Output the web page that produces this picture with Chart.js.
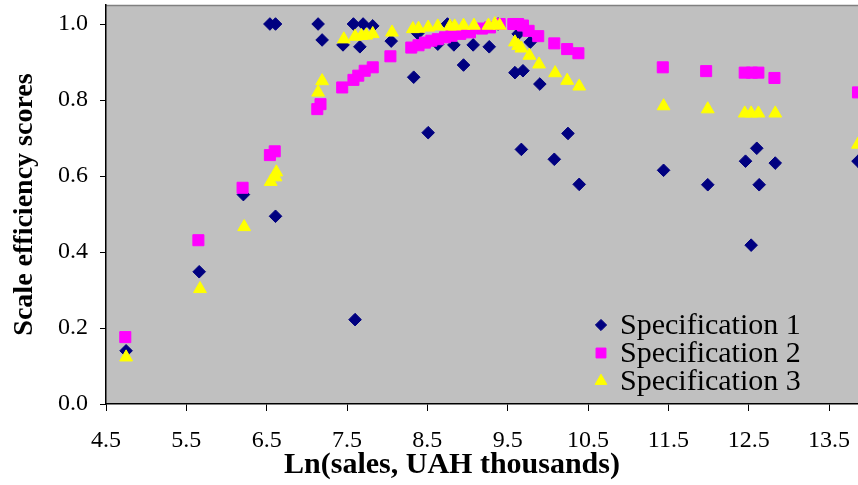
<!DOCTYPE html>
<html>
<head>
<meta charset="utf-8">
<script src="https://cdn.jsdelivr.net/npm/chart.js@4.4.1/dist/chart.umd.min.js"></script>
<style>
html,body{margin:0;padding:0;background:#fff;}
#wrap{width:858px;height:485px;}
</style>
</head>
<body>
<div id="wrap"><canvas id="c" width="858" height="485"></canvas></div>
<script>
// ---- data ----
const seriesLabels = ['Specification 1', 'Specification 2', 'Specification 3'];
const xAxisTitle = 'Ln(sales, UAH thousands)';
const yAxisTitle = 'Scale efficiency scores';
const xTickValues = [4.5, 5.5, 6.5, 7.5, 8.5, 9.5, 10.5, 11.5, 12.5, 13.5];
const yTickValues = [0.0, 0.2, 0.4, 0.6, 0.8, 1.0];

const spec1X = [4.75, 5.66, 6.21, 6.54, 6.61, 6.61, 7.14, 7.19, 7.45, 7.58, 7.60, 7.66, 7.70, 7.82, 8.05, 8.33, 8.38, 8.51, 8.63, 8.75, 8.83, 8.95, 9.07, 9.27, 9.38, 9.59, 9.63, 9.67, 9.69, 9.78, 9.90, 10.08, 10.25, 10.39, 11.44, 11.99, 12.46, 12.53, 12.60, 12.63, 12.83, 13.86];
const spec1Y = [0.140, 0.348, 0.551, 1.000, 1.000, 0.494, 1.000, 0.958, 0.945, 1.000, 0.222, 0.940, 1.000, 0.995, 0.955, 0.860, 0.975, 0.714, 0.947, 1.000, 0.945, 0.892, 0.945, 0.940, 1.000, 0.872, 0.974, 0.670, 0.877, 0.952, 0.842, 0.644, 0.712, 0.578, 0.615, 0.577, 0.639, 0.418, 0.673, 0.577, 0.634, 0.639];

const spec2X = [4.74, 5.65, 6.20, 6.54, 6.60, 7.13, 7.17, 7.44, 7.58, 7.64, 7.72, 7.82, 8.04, 8.30, 8.39, 8.47, 8.55, 8.63, 8.72, 8.80, 8.91, 9.03, 9.18, 9.28, 9.40, 9.57, 9.63, 9.69, 9.76, 9.88, 10.08, 10.24, 10.38, 11.43, 11.97, 12.45, 12.54, 12.62, 12.82, 13.86];
const spec2Y = [0.176, 0.431, 0.569, 0.655, 0.665, 0.776, 0.789, 0.833, 0.853, 0.864, 0.877, 0.886, 0.915, 0.938, 0.944, 0.951, 0.956, 0.960, 0.965, 0.969, 0.974, 0.978, 0.988, 0.991, 1.000, 1.000, 1.000, 0.996, 0.982, 0.968, 0.949, 0.934, 0.923, 0.886, 0.876, 0.872, 0.872, 0.872, 0.858, 0.820];

const spec3X = [4.75, 5.67, 6.22, 6.55, 6.61, 6.62, 7.14, 7.19, 7.46, 7.60, 7.68, 7.74, 7.82, 8.06, 8.32, 8.39, 8.51, 8.63, 8.78, 8.84, 8.95, 9.08, 9.26, 9.34, 9.40, 9.59, 9.63, 9.67, 9.77, 9.89, 10.09, 10.24, 10.39, 11.44, 11.99, 12.45, 12.53, 12.62, 12.83, 13.86];
const spec3Y = [0.123, 0.303, 0.466, 0.585, 0.597, 0.610, 0.820, 0.850, 0.960, 0.967, 0.969, 0.970, 0.974, 0.978, 0.987, 0.988, 0.991, 0.994, 0.994, 0.994, 0.996, 0.996, 0.996, 1.000, 0.996, 0.952, 0.943, 0.936, 0.917, 0.894, 0.871, 0.851, 0.836, 0.784, 0.776, 0.765, 0.765, 0.765, 0.765, 0.683];

// ---- build ----
const toPoints = (xs, ys) => xs.map((x, i) => ({x: x, y: ys[i]}));
const serif = '"Liberation Serif", "Times New Roman", serif';

// let the plot area run to the canvas edges (markers may overflow, as in the original)
const ScatterCtl = Chart.ScatterController || Chart.registry.getController('scatter');
ScatterCtl.prototype.getMaxOverflow = function () { return 0; };

const datasets = [
  {label: seriesLabels[0], data: toPoints(spec1X, spec1Y), order: 3, pointStyle: 'rectRot', pointRadius: 6.3,
   backgroundColor: '#000080', borderColor: '#000080', borderWidth: 1, legendRadius: 5.6},
  {label: seriesLabels[1], data: toPoints(spec2X, spec2Y), order: 2, pointStyle: 'rect', pointRadius: 7.8,
   backgroundColor: '#ff00ff', borderColor: '#ff00ff', borderWidth: 1, legendRadius: 7},
  {label: seriesLabels[2], data: toPoints(spec3X, spec3Y), order: 1, pointStyle: 'triangle', pointRadius: 7.4,
   backgroundColor: '#ffff00', borderColor: '#ffff00', borderWidth: 1, legendRadius: 6.8}
];

const plotBg = {
  id: 'plotBg',
  beforeDraw(chart) {
    const {ctx, chartArea: a} = chart;
    ctx.save();
    ctx.fillStyle = '#c0c0c0';
    ctx.fillRect(a.left, a.top, a.right - a.left, a.bottom - a.top);
    ctx.strokeStyle = '#808080';
    ctx.lineWidth = 1.5;
    ctx.beginPath();
    ctx.moveTo(a.left, a.top + 0.5);
    ctx.lineTo(a.right, a.top + 0.5);
    ctx.stroke();
    ctx.restore();
  }
};

const xTitle = {
  id: 'xTitle',
  afterDraw(chart) {
    const ctx = chart.ctx;
    ctx.save();
    ctx.fillStyle = '#000';
    ctx.font = 'bold 30px ' + serif;
    ctx.textAlign = 'center';
    ctx.textBaseline = 'middle';
    ctx.fillText(xAxisTitle, 452, 465);
    ctx.restore();
  }
};

const insideLegend = {
  id: 'insideLegend',
  afterDatasetsDraw(chart) {
    const ctx = chart.ctx;
    chart.data.datasets.forEach((ds, i) => {
      const y = 325 + i * 28;
      ctx.save();
      ctx.fillStyle = ds.backgroundColor;
      ctx.strokeStyle = ds.borderColor;
      ctx.lineWidth = 1;
      Chart.helpers.drawPoint(ctx, {pointStyle: ds.pointStyle, radius: ds.legendRadius, rotation: 0, borderWidth: 1}, 601, y);
      ctx.fillStyle = '#000';
      ctx.font = '30px ' + serif;
      ctx.textBaseline = 'middle';
      ctx.textAlign = 'left';
      ctx.fillText(ds.label, 620, y + 1);
      ctx.restore();
    });
  }
};

new Chart(document.getElementById('c'), {
  type: 'scatter',
  data: {datasets: datasets},
  plugins: [plotBg, insideLegend, xTitle],
  options: {
    responsive: false,
    animation: false,
    devicePixelRatio: 1,
    layout: {padding: {top: 5, right: 0, left: 0, bottom: 0}},
    plugins: {legend: {display: false}, tooltip: {enabled: false}},
    scales: {
      x: {
        type: 'linear', min: 4.5, max: 13.86,
        afterBuildTicks: s => { s.ticks = xTickValues.map(v => ({value: v})); },
        afterFit: s => { s.height = 81; s.paddingLeft = 0; s.paddingRight = 0; },
        ticks: {font: {family: serif, size: 24}, color: '#000', padding: 15, autoSkip: false, maxRotation: 0,
                callback: v => Number(v).toFixed(1)},
        grid: {drawOnChartArea: false, drawTicks: true, tickLength: 7, color: '#000', lineWidth: 1},
        border: {display: true, color: '#000', width: 1.5},
        title: {display: false, text: xAxisTitle}
      },
      y: {
        type: 'linear', min: 0, max: 1.05,
        afterBuildTicks: s => { s.ticks = yTickValues.map(v => ({value: v})); },
        afterFit: s => { s.width = 106; s.paddingTop = 0; s.paddingBottom = 0; },
        ticks: {font: {family: serif, size: 24}, color: '#000', padding: 12,
                callback: v => Number(v).toFixed(1)},
        grid: {drawOnChartArea: false, drawTicks: true, tickLength: 6, color: '#000', lineWidth: 1},
        border: {display: true, color: '#000', width: 1.5},
        title: {display: true, text: yAxisTitle, color: '#000', font: {family: serif, size: 28, weight: 'bold'},
                padding: {top: 8, bottom: 0}}
      }
    }
  }
});
</script>
</body>
</html>
